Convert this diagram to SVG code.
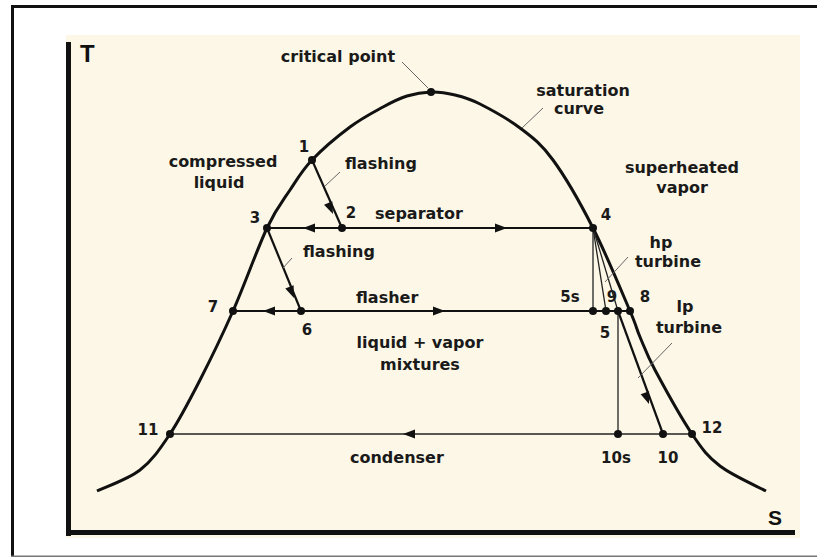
<svg xmlns="http://www.w3.org/2000/svg" width="817" height="558" viewBox="0 0 817 558">
<style>
.lbl{font-family:"DejaVu Sans",sans-serif;font-weight:bold;font-size:16px;fill:#1a1a1a}
.num{font-family:"DejaVu Sans",sans-serif;font-weight:bold;font-size:15px;fill:#1a1a1a;text-anchor:middle}
.mid{text-anchor:middle}
.axis{font-family:"Liberation Sans",Arial,sans-serif;font-weight:bold;fill:#111}
.thick{stroke:#111;stroke-width:2.2;fill:none}
.thin{stroke:#222;stroke-width:1.3;fill:none}
.leader{stroke:#666;stroke-width:1;fill:none}
.dot{fill:#111}
.ah{fill:#111}
</style>
<defs>
<path id="ah" d="M0,0 L-12,-4.5 L-12,4.5 Z"/>
</defs>
<rect x="0" y="0" width="817" height="558" fill="#ffffff"/>
<g id="frame">
<rect x="11" y="5" width="806" height="3" fill="#111"/>
<rect x="11" y="5" width="3" height="552" fill="#111"/>
<rect x="11" y="555.5" width="806" height="1.5" fill="#777"/>
</g>
<rect id="panel" x="66" y="35" width="734" height="503" fill="#fcf7e6"/>
<g id="axes">
<rect x="66" y="42" width="5" height="494" fill="#111"/>
<rect x="66" y="530" width="729" height="5" fill="#111"/>
<text class="axis" x="80" y="62" font-size="24">T</text>
<text class="axis" x="768" y="525" font-size="21">S</text>
</g>
<g id="saturation-curve">
<path d="M97,491 C104.2,487.5 127.8,479.5 140,470 C152.2,460.5 160,449 170,434 C180,419 189.5,400.5 200,380 C210.5,359.5 221.8,336.3 233,311 C244.2,285.7 257.5,248.2 267,228 C276.5,207.8 282.5,201.3 290,190 C297.5,178.7 302,170.5 312,160 C322,149.5 338.2,135.8 350,127 C361.8,118.2 373.5,112.2 383,107 C392.5,101.8 399,98.5 407,96 C415,93.5 423,92.2 431,92 C439,91.8 446.8,93 455,95 C463.2,97 469.2,98.5 480,104 C490.8,109.5 507.8,118.7 520,128 C532.2,137.3 540.8,143.3 553,160 C565.2,176.7 580.2,202.8 593,228 C605.8,253.2 622.2,292.8 630,311 C637.8,329.2 635.8,327.2 640,337 C644.2,346.8 646.3,353.8 655,370 C663.7,386.2 681.2,418 692,434 C702.8,450 707.7,456.5 720,466 C732.3,475.5 758.3,486.8 766,491" stroke="#111" stroke-width="3" fill="none"/>
</g>
<g id="connectors">
<line class="thick" x1="267" y1="228" x2="593" y2="228"/>
<line class="thick" x1="233" y1="311" x2="630" y2="311"/>
<line class="thin" x1="170" y1="434" x2="692" y2="434"/>
<line class="thick" x1="312" y1="160" x2="342" y2="228"/>
<line class="thick" x1="267" y1="228" x2="301" y2="311"/>
<line class="thin" x1="593" y1="228" x2="593" y2="311"/>
<line class="thin" x1="593" y1="228" x2="606" y2="311"/>
<line class="thin" x1="593" y1="228" x2="618" y2="311"/>
<line class="thin" x1="618" y1="311" x2="618" y2="434"/>
<line class="thick" x1="618" y1="311" x2="663" y2="434"/>
<use href="#ah" class="ah" transform="translate(303,228) rotate(180)"/>
<use href="#ah" class="ah" transform="translate(507,228)"/>
<use href="#ah" class="ah" transform="translate(263,311) rotate(180)"/>
<use href="#ah" class="ah" transform="translate(445,311)"/>
<use href="#ah" class="ah" transform="translate(403,434) rotate(180)"/>
<use href="#ah" class="ah" transform="translate(333,214) rotate(66.2)"/>
<use href="#ah" class="ah" transform="translate(294,298) rotate(67.7)"/>
<use href="#ah" class="ah" transform="translate(649,404) rotate(69.9)"/>
</g>
<g id="leaders">
<line class="leader" x1="402" y1="62" x2="428" y2="88"/>
<line class="leader" x1="543" y1="108" x2="522" y2="128"/>
<line class="leader" x1="340" y1="172" x2="325" y2="186"/>
<line class="leader" x1="292" y1="258" x2="283" y2="268"/>
<line class="leader" x1="628" y1="257" x2="605" y2="282"/>
<line class="leader" x1="672" y1="343" x2="638" y2="378"/>
</g>
<g id="critical-point"><circle class="dot" cx="431" cy="92" r="4"/><text class="lbl mid" x="338" y="62">critical point</text></g>
<g id="saturation-label"><text class="lbl mid" x="583" y="96">saturation</text><text class="lbl mid" x="579" y="114">curve</text></g>
<g id="compressed-liquid"><text class="lbl mid" x="223" y="167">compressed</text><text class="lbl mid" x="219" y="188">liquid</text></g>
<g id="superheated-vapor"><text class="lbl mid" x="682" y="173">superheated</text><text class="lbl mid" x="682" y="193">vapor</text></g>
<g id="flashing-1"><text class="lbl" x="345" y="169">flashing</text></g>
<g id="flashing-2"><text class="lbl" x="303" y="257">flashing</text></g>
<g id="separator"><text class="lbl" x="375" y="219">separator</text></g>
<g id="flasher"><text class="lbl" x="356" y="303">flasher</text></g>
<g id="mixtures"><text class="lbl mid" x="420" y="348">liquid + vapor</text><text class="lbl mid" x="420" y="370">mixtures</text></g>
<g id="condenser"><text class="lbl" x="350" y="463">condenser</text></g>
<g id="hp-turbine"><text class="lbl mid" x="661" y="248">hp</text><text class="lbl mid" x="668" y="267">turbine</text></g>
<g id="lp-turbine"><text class="lbl mid" x="685" y="312">lp</text><text class="lbl mid" x="689" y="333">turbine</text></g>
<g id="p1"><circle class="dot" cx="312" cy="160" r="4"/><text class="num" x="304" y="152">1</text></g>
<g id="p2"><circle class="dot" cx="342" cy="228" r="4"/><text class="num" x="351" y="218">2</text></g>
<g id="p3"><circle class="dot" cx="267" cy="228" r="4"/><text class="num" x="255" y="223">3</text></g>
<g id="p4"><circle class="dot" cx="593" cy="228" r="4"/><text class="num" x="606" y="220">4</text></g>
<g id="p5s"><circle class="dot" cx="593" cy="311" r="4"/><text class="num" x="570" y="302">5s</text></g>
<g id="p5"><circle class="dot" cx="606" cy="311" r="4"/><text class="num" x="605" y="338">5</text></g>
<g id="p9"><circle class="dot" cx="618" cy="311" r="4"/><text class="num" x="612" y="302">9</text></g>
<g id="p8"><circle class="dot" cx="630" cy="311" r="4"/><text class="num" x="645" y="302">8</text></g>
<g id="p6"><circle class="dot" cx="301" cy="311" r="4"/><text class="num" x="307" y="335">6</text></g>
<g id="p7"><circle class="dot" cx="233" cy="311" r="4"/><text class="num" x="213" y="312">7</text></g>
<g id="p11"><circle class="dot" cx="170" cy="434" r="4"/><text class="num" x="148" y="435">11</text></g>
<g id="p10s"><circle class="dot" cx="618" cy="434" r="4"/><text class="num" x="616" y="463">10s</text></g>
<g id="p10"><circle class="dot" cx="663" cy="434" r="4"/><text class="num" x="668" y="463">10</text></g>
<g id="p12"><circle class="dot" cx="692" cy="434" r="4"/><text class="num" x="712" y="433">12</text></g>
</svg>
